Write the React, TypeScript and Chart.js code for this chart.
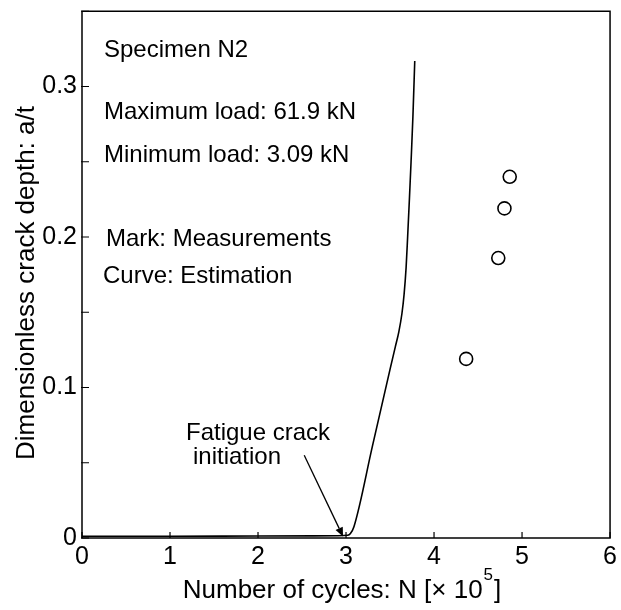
import React, { useEffect, useRef } from 'react';
import { Chart, registerables } from 'chart.js';

Chart.register(...registerables);

// Estimated crack growth curve: cycles (×10^5) and dimensionless depth a/t
const estimateCycles = [0, 1.0, 2.0, 2.9, 3.02, 3.05, 3.09, 3.3, 3.5, 3.56, 3.6, 3.635, 3.66, 3.683, 3.7, 3.72, 3.739, 3.76, 3.781];
const estimateDepth = [0.0012, 0.0012, 0.0013, 0.0015, 0.0018, 0.003, 0.0075, 0.061, 0.112, 0.127, 0.137, 0.149, 0.162, 0.18, 0.2, 0.225, 0.25, 0.28, 0.317];

// Measured crack depths
const measuredCycles = [4.365, 4.73, 4.8, 4.86];
const measuredDepth = [0.119, 0.186, 0.219, 0.24];

// Axis ticks
const xTickStep = 1;
const yTickStep = 0.05;
const yLabelledTicks = [0, 0.1, 0.2, 0.3];
const yTickLabels = ['0', '0.1', '0.2', '0.3'];

// Text notes
const noteLines = ['Specimen N2', 'Maximum load: 61.9 kN', 'Minimum load: 3.09 kN', 'Mark: Measurements', 'Curve: Estimation'];
const arrowLabel = ['Fatigue crack', 'initiation'];
const arrowFrom = { x: 2.525, y: 0.055 };
const arrowTo = { x: 2.966, y: 0.001 };

const xTitleMain = 'Number of cycles: N [× 10';
const xTitleExp = '5';
const xTitleEnd = ']';
const yTitle = 'Dimensionless crack depth: a/t';

const FONT = '"Liberation Sans", Arial, Helvetica, sans-serif';

const decorations = {
  id: 'decorations',
  afterDraw(chart: any) {
    const { ctx, chartArea: area, scales } = chart;
    const xs = scales.x;
    const ys = scales.y;
    ctx.save();
    ctx.strokeStyle = '#000';
    ctx.fillStyle = '#000';

    // frame
    ctx.lineWidth = 1.5;
    ctx.strokeRect(area.left, area.top, area.right - area.left, area.bottom - area.top);

    // inward tick marks
    ctx.lineWidth = 1.2;
    ctx.beginPath();
    xs.ticks.forEach((t: any) => {
      const px = xs.getPixelForValue(t.value);
      ctx.moveTo(px, area.bottom);
      ctx.lineTo(px, area.bottom - 6);
    });
    ys.ticks.forEach((t: any) => {
      const py = ys.getPixelForValue(t.value);
      ctx.moveTo(area.left - 1, py);
      ctx.lineTo(area.left + 7, py);
    });
    ctx.stroke();

    // notes
    ctx.font = `24px ${FONT}`;
    ctx.textBaseline = 'alphabetic';
    ctx.textAlign = 'left';
    const noteX = [area.left + 22, area.left + 22, area.left + 22, area.left + 24, area.left + 21];
    const noteY = [57, 119, 162, 246, 283];
    noteLines.forEach((s, i) => ctx.fillText(s, noteX[i], noteY[i]));

    // arrow label
    ctx.fillText(arrowLabel[0], 186, 440);
    ctx.fillText(arrowLabel[1], 193, 464);

    // arrow
    const x0 = xs.getPixelForValue(arrowFrom.x);
    const y0 = ys.getPixelForValue(arrowFrom.y);
    const x1 = xs.getPixelForValue(arrowTo.x);
    const y1 = ys.getPixelForValue(arrowTo.y);
    const ang = Math.atan2(y1 - y0, x1 - x0);
    const headLen = 9;
    const headHalf = 4;
    const bx = x1 - headLen * Math.cos(ang);
    const by = y1 - headLen * Math.sin(ang);
    ctx.lineWidth = 1.3;
    ctx.beginPath();
    ctx.moveTo(x0, y0);
    ctx.lineTo(bx, by);
    ctx.stroke();
    ctx.beginPath();
    ctx.moveTo(x1, y1);
    ctx.lineTo(bx + headHalf * Math.sin(ang), by - headHalf * Math.cos(ang));
    ctx.lineTo(bx - headHalf * Math.sin(ang), by + headHalf * Math.cos(ang));
    ctx.closePath();
    ctx.fill();

    // x-axis title with superscript exponent
    const bigFont = `26px ${FONT}`;
    const smallFont = `17px ${FONT}`;
    ctx.font = bigFont;
    const wMain = ctx.measureText(xTitleMain).width;
    const wEnd = ctx.measureText(xTitleEnd).width;
    ctx.font = smallFont;
    const wExp = ctx.measureText(xTitleExp).width;
    const total = wMain + wExp + 2 + wEnd;
    const cx = (area.left + area.right) / 2 - 4;
    let tx = cx - total / 2;
    const base = 598;
    ctx.font = bigFont;
    ctx.fillText(xTitleMain, tx, base);
    tx += wMain + 1;
    ctx.font = smallFont;
    ctx.fillText(xTitleExp, tx, base - 18);
    tx += wExp + 1;
    ctx.font = bigFont;
    ctx.fillText(xTitleEnd, tx, base);

    // y-axis title
    ctx.translate(34, 283);
    ctx.rotate(-Math.PI / 2);
    ctx.textAlign = 'center';
    ctx.fillText(yTitle, 0, 0);
    ctx.restore();
  },
};

export default function App() {
  const canvasRef = useRef<HTMLCanvasElement | null>(null);

  useEffect(() => {
    const canvas = canvasRef.current;
    if (!canvas) return;
    const chart = new Chart(canvas, {
      type: 'scatter',
      data: {
        datasets: [
          {
            label: 'Estimation',
            data: estimateCycles.map((x, i) => ({ x, y: estimateDepth[i] })),
            showLine: true,
            borderColor: '#000',
            borderWidth: 1.6,
            pointRadius: 0,
            cubicInterpolationMode: 'monotone',
            fill: false,
          },
          {
            label: 'Measurements',
            data: measuredCycles.map((x, i) => ({ x, y: measuredDepth[i] })),
            showLine: false,
            pointRadius: 6.5,
            pointBorderWidth: 1.6,
            pointBorderColor: '#000',
            pointBackgroundColor: 'rgba(255,255,255,0)',
          },
        ],
      },
      options: {
        responsive: false,
        animation: false,
        devicePixelRatio: 1,
        layout: { padding: { top: 9, right: 9, left: 0, bottom: 0 } },
        plugins: {
          legend: { display: false },
          tooltip: { enabled: false },
        },
        scales: {
          x: {
            type: 'linear',
            min: 0,
            max: 6,
            afterFit: (s: any) => {
              s.height = 72;
            },
            grid: { display: false, drawTicks: false },
            border: { display: false },
            ticks: {
              stepSize: xTickStep,
              padding: 4,
              color: '#000',
              maxRotation: 0,
              autoSkip: false,
              font: { family: FONT, size: 25 },
            },
          },
          y: {
            type: 'linear',
            min: 0,
            max: 0.35,
            afterFit: (s: any) => {
              s.width = 82;
            },
            grid: { display: false, drawTicks: false },
            border: { display: false },
            ticks: {
              stepSize: yTickStep,
              padding: 5,
              color: '#000',
              autoSkip: false,
              font: { family: FONT, size: 25, lineHeight: 0.5 },
              callback: (v: any) => {
                const idx = yLabelledTicks.findIndex((t) => Math.abs(t - Number(v)) < 1e-6);
                return idx >= 0 ? yTickLabels[idx] : '';
              },
            },
          },
        },
      },
      plugins: [decorations],
    } as any);
    return () => chart.destroy();
  }, []);

  return (
    <div style={{ position: 'fixed', left: 0, top: 0, width: 621, height: 610, background: '#fff' }}>
      <canvas ref={canvasRef} width={621} height={610} style={{ display: 'block', width: 621, height: 610 }} />
    </div>
  );
}
